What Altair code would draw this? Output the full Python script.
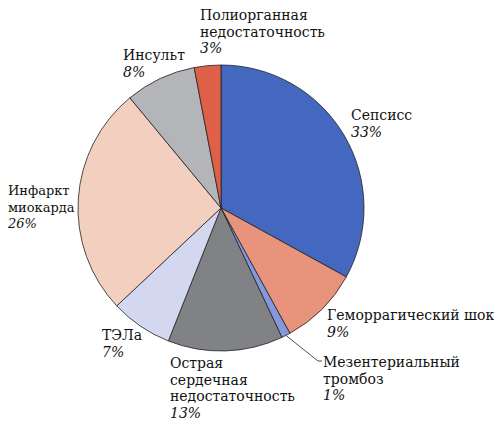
import math
import altair as alt
import pandas as pd

# ---- data ----
categories = ["Сепсисс", "Геморрагический шок", "Мезентериальный тромбоз",
              "Острая сердечная недостаточность", "ТЭЛа", "Инфаркт миокарда",
              "Инсульт", "Полиорганная недостаточность"]
values = [33, 9, 1, 13, 7, 26, 8, 3]
colors = ["#4467BF", "#E8937B", "#8598DC", "#818285", "#D4D7F0", "#F3CFC0",
          "#B4B5B8", "#DE6049"]
label_lines = [["Сепсисс"], ["Геморрагический шок"], ["Мезентериальный", "тромбоз"],
               ["Острая", "сердечная", "недостаточность"], ["ТЭЛа"],
               ["Инфаркт", "миокарда"], ["Инсульт"], ["Полиорганная", "недостаточность"]]

# ---- layout (pixels inside the plot area) ----
W, H = 486, 411
CX, CY, R = 213, 200, 143
FONT = "DejaVu Serif"
PITCH = 16.5
# top-left anchor (x, first baseline) and font size of each label block
label_anchor = [(343, 112), (319, 312), (315, 359), (162, 360), (94, 332),
                (0, 187), (115, 52), (192, 12)]
label_size = [14, 14, 14, 14, 14, 13, 14, 14]

df = pd.DataFrame({"cat": categories, "val": values, "order": range(len(values))})

pie = alt.Chart(df).mark_arc(outerRadius=R, stroke="#222222", strokeWidth=0.8).encode(
    theta=alt.Theta("val:Q", stack=True),
    order=alt.Order("order:Q"),
    color=alt.Color("cat:N", scale=alt.Scale(domain=categories, range=colors), legend=None),
    x=alt.value(CX),
    y=alt.value(CY),
)

rows_txt, rows_pct = [], []
for i, (lines, (ax, ay)) in enumerate(zip(label_lines, label_anchor)):
    for j, t in enumerate(lines):
        rows_txt.append({"x": ax, "y": ay + j * PITCH, "t": t, "s": label_size[i]})
    rows_pct.append({"x": ax, "y": ay + len(lines) * PITCH, "t": f"{values[i]}%",
                     "s": label_size[i]})

txt = alt.Chart(pd.DataFrame(rows_txt)).mark_text(
    align="left", baseline="alphabetic", font=FONT, color="#111111"
).encode(x=alt.X("x:Q", scale=None), y=alt.Y("y:Q", scale=None), text="t:N",
         size=alt.Size("s:Q", scale=None, legend=None))

pct = alt.Chart(pd.DataFrame(rows_pct)).mark_text(
    align="left", baseline="alphabetic", font=FONT, fontStyle="italic", color="#111111"
).encode(x=alt.X("x:Q", scale=None), y=alt.Y("y:Q", scale=None), text="t:N",
         size=alt.Size("s:Q", scale=None, legend=None))

# leader line for the 1% slice, from the slice's mid-angle on the rim
cum = sum(values[:2])
mid = (cum + values[2] / 2) / sum(values) * 2 * math.pi
sx, sy = CX + R * math.sin(mid), CY - R * math.cos(mid)
ex, ey = label_anchor[2][0] - 5, label_anchor[2][1] - 6
leader = pd.DataFrame({"x": [sx, ex, ex + 4], "y": [sy, ey, ey], "o": [0, 1, 2]})
lead = alt.Chart(leader).mark_line(color="#222222", strokeWidth=0.8).encode(
    x=alt.X("x:Q", scale=None), y=alt.Y("y:Q", scale=None), order="o:Q")

chart = alt.layer(pie, lead, txt, pct).properties(
    width=W, height=H, autosize=alt.AutoSizeParams(type="none"), padding=0
).configure_view(stroke=None)

chart.save("out.html", embed_options={"renderer": "svg", "actions": False})
